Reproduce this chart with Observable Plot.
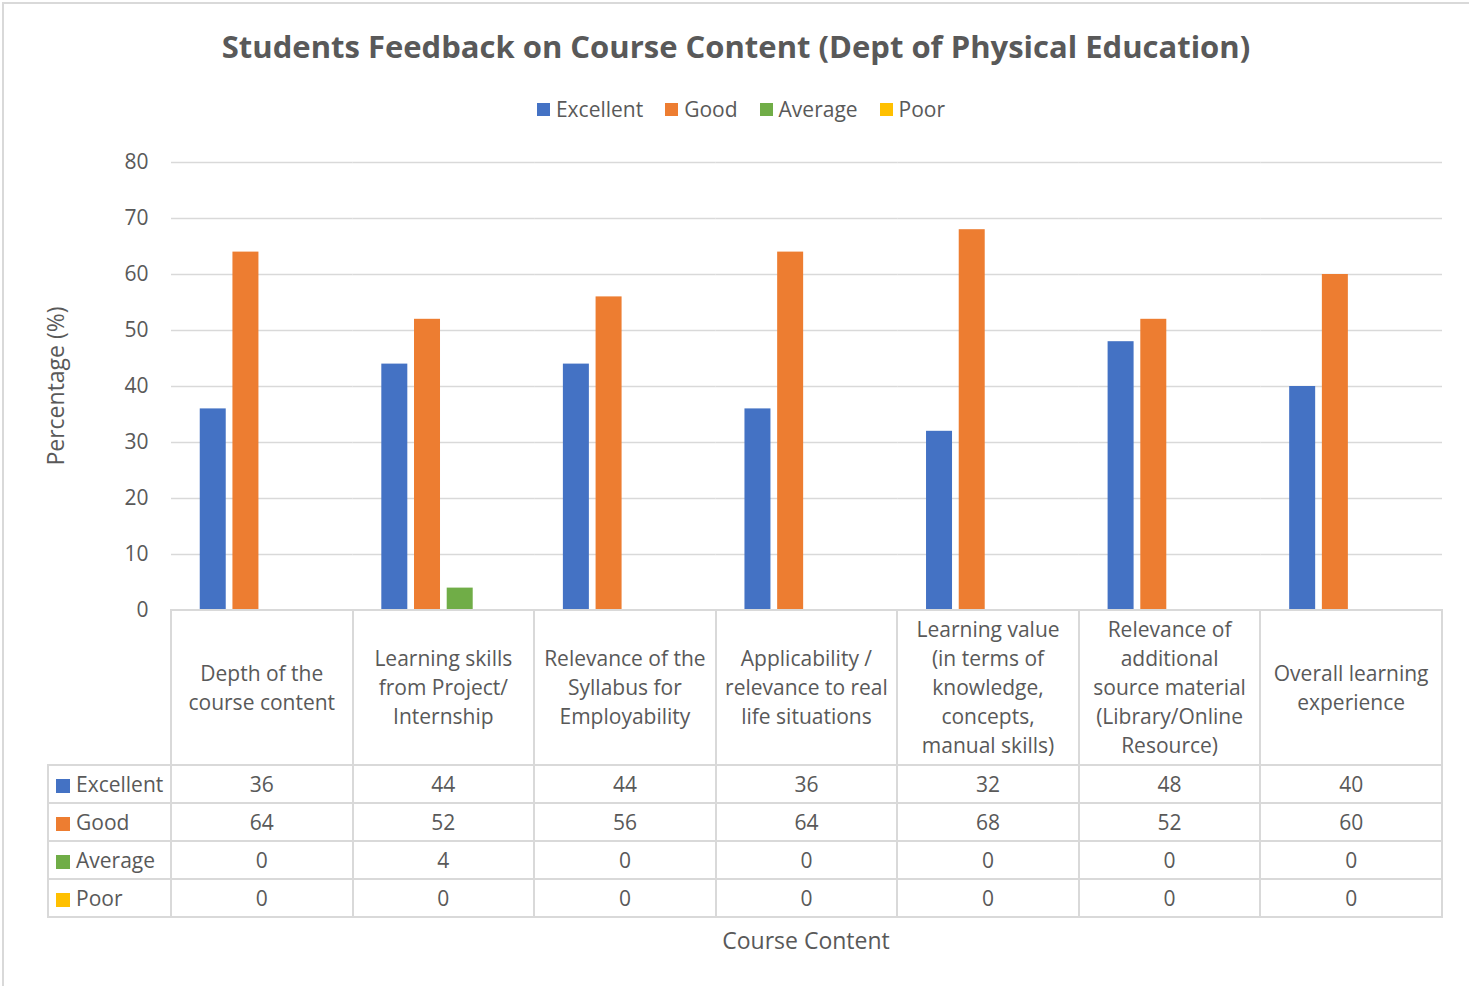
<!DOCTYPE html>
<html>
<head>
<meta charset="utf-8">
<script src="https://cdn.jsdelivr.net/npm/d3@7"></script>
<script src="https://cdn.jsdelivr.net/npm/@observablehq/plot@0.6"></script>
<style>
  body { margin: 0; background: #fff; font-family: "Open Sans", sans-serif; color: #595959; }
  #wrap { position: relative; width: 1469px; height: 986px; overflow: hidden; background: #fff; }
  #frame { position: absolute; left: 2px; top: 2px; width: 1480px; height: 1000px; border-left: 2px solid #d9d9d9; border-top: 2px solid #d9d9d9; }
  #title { position: absolute; left: 0; top: 25px; width: 1472px; text-align: center; font-weight: 700; font-size: 31px; color: #595959; }
  #legend { position: absolute; left: 0; top: 95px; width: 1482px; display: flex; justify-content: center; gap: 22px; font-size: 21px; }
  #legend .item { display: flex; align-items: center; gap: 6px; }
  #legend .sw { width: 13px; height: 13px; display: inline-block; }
  #plot { position: absolute; left: 0; top: 0; }
  #ylabel { position: absolute; left: 55px; top: 386px; transform: translate(-50%, -50%) rotate(-90deg); font-size: 23px; white-space: nowrap; }
  #xlabel { position: absolute; left: 806px; top: 940px; transform: translate(-50%, -50%); font-size: 23px; white-space: nowrap; }
  #tbl { position: absolute; left: 47px; top: 609px; border-collapse: collapse; table-layout: fixed; font-size: 21px; color: #595959; }
  #tbl td { border: 2px solid #d9d9d9; padding: 0; text-align: center; vertical-align: middle; white-space: pre-line; line-height: 29px; }
  #tbl td.corner { border-top: none; border-left: none; }
  #tbl tr.head td { height: 153px; }
  #tbl tr.row td { height: 36px; }
  #tbl td.name { text-align: left; padding-left: 7px; white-space: nowrap; }
  #tbl .sw { width: 14px; height: 14px; display: inline-block; margin-right: 6px; vertical-align: -1px; }
</style>
</head>
<body>
<div id="wrap">
  <div id="frame"></div>
  <div id="title"></div>
  <div id="legend"></div>
  <div id="plot"></div>
  <div id="ylabel"></div>
  <div id="xlabel"></div>
  <table id="tbl"></table>
</div>
<script>
// ---------- data ----------
const titleText = "Students Feedback on Course Content (Dept of Physical Education)";
const yAxisTitle = "Percentage (%)";
const xAxisTitle = "Course Content";
const categories = [
  "Depth of the\ncourse content",
  "Learning skills\nfrom Project/\nInternship",
  "Relevance of the\nSyllabus for\nEmployability",
  "Applicability /\nrelevance to real\nlife situations",
  "Learning value\n(in terms of\nknowledge,\nconcepts,\nmanual skills)",
  "Relevance of\nadditional\nsource material\n(Library/Online\nResource)",
  "Overall learning\nexperience"
];
const seriesNames = ["Excellent", "Good", "Average", "Poor"];
const seriesColors = ["#4472C4", "#ED7D31", "#70AD47", "#FFC000"];
const excellent = [36, 44, 44, 36, 32, 48, 40];
const good = [64, 52, 56, 64, 68, 52, 60];
const average = [0, 4, 0, 0, 0, 0, 0];
const poor = [0, 0, 0, 0, 0, 0, 0];
const yTicks = [0, 10, 20, 30, 40, 50, 60, 70, 80];

// ---------- build ----------
const seriesValues = [excellent, good, average, poor];
const data = seriesNames.flatMap((s, i) =>
  categories.map((c, j) => ({ category: c, series: s, value: seriesValues[i][j] }))
);

document.getElementById("title").textContent = titleText;
document.getElementById("ylabel").textContent = yAxisTitle;
document.getElementById("xlabel").textContent = xAxisTitle;

const legend = document.getElementById("legend");
seriesNames.forEach((s, i) => {
  const it = document.createElement("div");
  it.className = "item";
  const sw = document.createElement("span");
  sw.className = "sw";
  sw.style.background = seriesColors[i];
  const tx = document.createElement("span");
  tx.textContent = s;
  it.append(sw, tx);
  legend.append(it);
});

const W = 1469, marginLeft = 171, marginRight = 27, marginTop = 162, marginBottom = 10;
const chart = Plot.plot({
  width: W,
  height: 620,
  marginLeft, marginRight, marginTop, marginBottom,
  style: { fontFamily: "Open Sans, sans-serif", fontSize: "21px", color: "#595959", background: "transparent", overflow: "visible" },
  fx: { domain: categories, padding: 0, round: false, axis: null },
  x: { domain: seriesNames, paddingInner: 0.205, paddingOuter: 0.879, round: false, axis: null },
  y: { domain: [0, 80] },
  color: { domain: seriesNames, range: seriesColors },
  marks: [
    Plot.ruleY(yTicks.filter(d => d > 0), { stroke: "#d9d9d9", strokeWidth: 1.5 }),
    Plot.axisY({ ticks: yTicks, tickSize: 0, tickPadding: 23, label: null, fill: "#595959", fontSize: 21 }),
    Plot.barY(data, { fx: "category", x: "series", y: "value", fill: "series" })
  ]
});
document.getElementById("plot").append(chart);

// data table below the plot
const colW = (W - marginLeft - marginRight) / categories.length;
const tbl = document.getElementById("tbl");
const cg = document.createElement("colgroup");
[marginLeft - 48, ...categories.map(() => colW)].forEach(w => {
  const col = document.createElement("col");
  col.style.width = w + "px";
  cg.append(col);
});
tbl.append(cg);
const head = document.createElement("tr");
head.className = "head";
const corner = document.createElement("td");
corner.className = "corner";
head.append(corner);
categories.forEach(c => {
  const td = document.createElement("td");
  td.textContent = c;
  head.append(td);
});
tbl.append(head);
seriesNames.forEach((s, i) => {
  const tr = document.createElement("tr");
  tr.className = "row";
  const nm = document.createElement("td");
  nm.className = "name";
  const sw = document.createElement("span");
  sw.className = "sw";
  sw.style.background = seriesColors[i];
  nm.append(sw, document.createTextNode(s));
  tr.append(nm);
  seriesValues[i].forEach(v => {
    const td = document.createElement("td");
    td.textContent = v;
    tr.append(td);
  });
  tbl.append(tr);
});
</script>
</body>
</html>
